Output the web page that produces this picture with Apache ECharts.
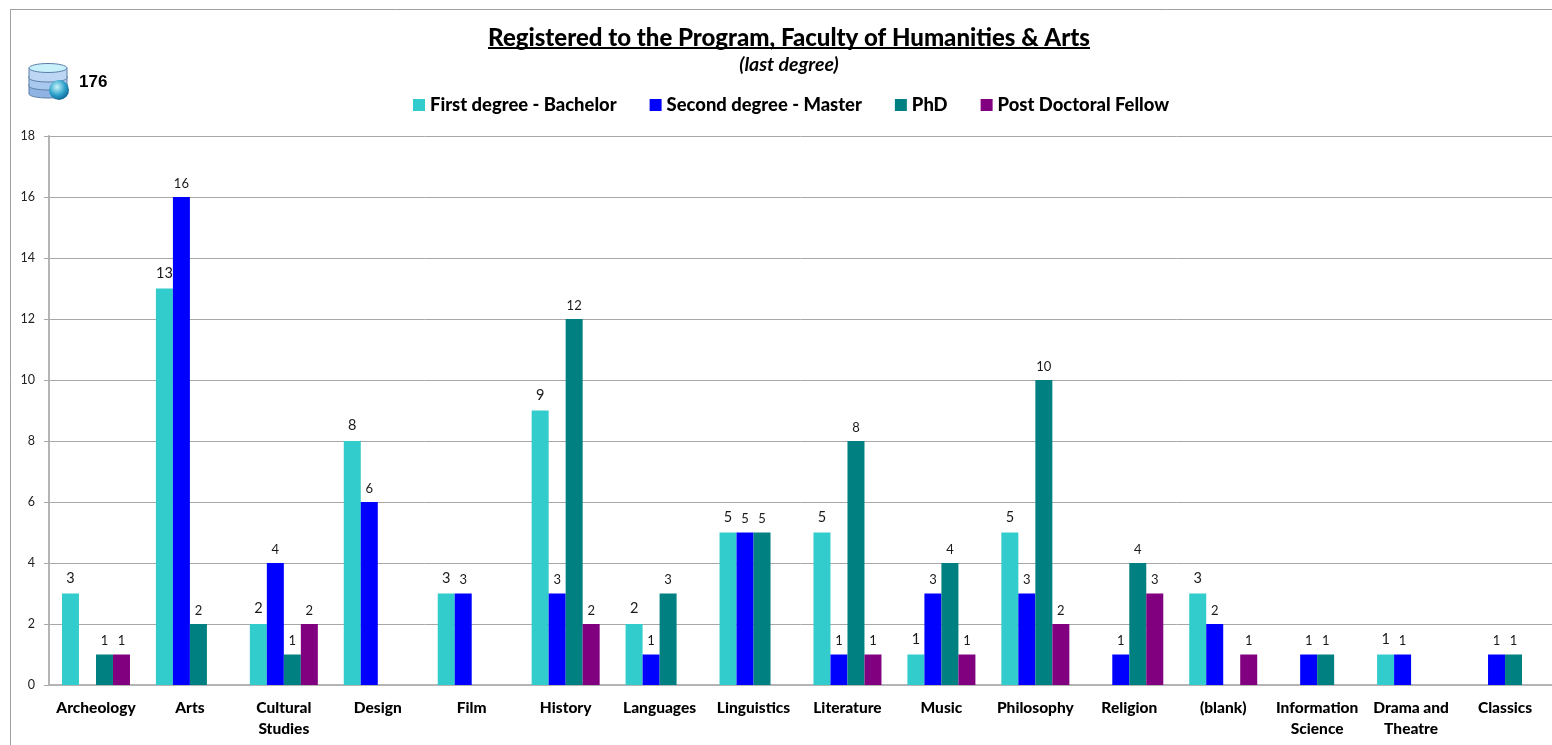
<!DOCTYPE html>
<html>
<head>
<meta charset="utf-8">
<title>Registered to the Program</title>
<script src="https://cdn.jsdelivr.net/npm/echarts@6/dist/echarts.min.js"></script>
<style>
  html, body { margin: 0; padding: 0; background: #fff; }
  #chart { width: 1552px; height: 745px; }
</style>
</head>
<body>
<div id="chart"></div>
<script>
const categories = ['Archeology', 'Arts', 'Cultural\nStudies', 'Design', 'Film', 'History', 'Languages', 'Linguistics',
    'Literature', 'Music', 'Philosophy', 'Religion', '(blank)', 'Information\nScience', 'Drama and\nTheatre', 'Classics']
const bachelor = [3, 13, 2, 8, 3, 9, 2, 5, 5, 1, 5, null, 3, null, 1, null]
const master = [null, 16, 4, 6, 3, 3, 1, 5, 1, 3, 3, 1, 2, 1, 1, 1]
const phd = [1, 2, 1, null, null, 12, 3, 5, 8, 4, 10, 4, null, 1, null, 1]
const postDoc = [1, null, 2, null, null, 2, null, null, 1, 1, 2, 3, 1, null, null, null]
const titleText = 'Registered to the Program, Faculty of Humanities & Arts'
const subtitleText = '(last degree)'
const totalText = '176'

const FONT = 'Lato'
const myChart = echarts.init(document.getElementById('chart'), null, { renderer: 'canvas' })

function barSeries(name, data, color, labelSize, labelDist) {
    return {
        name: name,
        type: 'bar',
        data: data,
        barWidth: 17,
        barGap: 0,
        itemStyle: { color: color },
        label: {
            show: true,
            position: 'top',
            distance: labelDist,
            color: '#1a1a1a',
            fontFamily: FONT,
            fontSize: labelSize
        }
    }
}

// database icon, next to the total: three stacked discs and a globe
function disc(cy, fill) {
    return [
        { type: 'ellipse', shape: { cx: 48, cy: cy + 10, rx: 19, ry: 4 }, style: { fill: fill, stroke: '#5b7fa8', lineWidth: 1 } },
        { type: 'rect', shape: { x: 29, y: cy, width: 38, height: 10 }, style: { fill: fill } },
        { type: 'line', shape: { x1: 29, y1: cy, x2: 29, y2: cy + 10 }, style: { stroke: '#5b7fa8', lineWidth: 1 } },
        { type: 'line', shape: { x1: 67, y1: cy, x2: 67, y2: cy + 10 }, style: { stroke: '#5b7fa8', lineWidth: 1 } }
    ]
}

myChart.setOption({
    animation: false,
    backgroundColor: '#fff',
    grid: { left: 49, right: 0, top: 136, bottom: 60, containLabel: false },
    legend: {
        top: 96,
        left: 413,
        padding: 0,
        itemWidth: 12,
        itemHeight: 12,
        itemGap: 33,
        icon: 'rect',
        textStyle: { fontFamily: FONT, fontWeight: 900, fontSize: 18.4, color: '#000' }
    },
    xAxis: {
        type: 'category',
        data: categories,
        axisLine: { lineStyle: { color: '#b4b4b4', width: 2 } },
        axisTick: { length: 5, lineStyle: { color: '#b4b4b4', width: 1 } },
        axisLabel: {
            interval: 0,
            margin: 12,
            color: '#000',
            fontFamily: FONT,
            fontWeight: 900,
            fontSize: 15.5,
            lineHeight: 21
        }
    },
    yAxis: {
        type: 'value',
        min: 0,
        max: 18,
        interval: 2,
        axisLine: { show: true, lineStyle: { color: '#b4b4b4', width: 2 } },
        axisTick: { show: true, length: 5, lineStyle: { color: '#a8a8a8', width: 1 } },
        axisLabel: { margin: 14, color: '#222', fontFamily: FONT, fontSize: 12.5 },
        splitLine: { lineStyle: { color: '#a8a8a8', width: 1 } }
    },
    series: [
        barSeries('First degree - Bachelor', bachelor, '#33cccc', 14.5, 8),
        barSeries('Second degree - Master', master, '#0000ff', 13, 7),
        barSeries('PhD', phd, '#008080', 13, 7),
        barSeries('Post Doctoral Fellow', postDoc, '#800080', 13, 7)
    ],
    graphic: [
        { type: 'line', shape: { x1: 10.5, y1: 745, x2: 10.5, y2: 9.5 }, style: { stroke: '#a0a0a0', lineWidth: 1 } },
        { type: 'line', shape: { x1: 10, y1: 9.5, x2: 1552, y2: 9.5 }, style: { stroke: '#a0a0a0', lineWidth: 1 } },
        {
            type: 'text', x: 789, y: 38,
            style: {
                text: titleText, fill: '#000', fontFamily: FONT, fontWeight: 900, fontSize: 24,
                align: 'center', verticalAlign: 'middle'
            }
        },
        { type: 'line', shape: { x1: 488, y1: 48, x2: 1090, y2: 48 }, style: { stroke: '#000', lineWidth: 2 } },
        {
            type: 'text', x: 789, y: 65,
            style: {
                text: subtitleText, fill: '#000', fontFamily: FONT, fontStyle: 'italic', fontWeight: 'bold', fontSize: 19.5,
                align: 'center', verticalAlign: 'middle'
            }
        },
        {
            type: 'text', x: 79, y: 82,
            style: {
                text: totalText, fill: '#000', fontFamily: 'Liberation Sans', fontWeight: 'bold', fontSize: 17,
                align: 'left', verticalAlign: 'middle'
            }
        },
        ...disc(84, '#8fb4e4'),
        ...disc(76, '#a9c8ee'),
        ...disc(68, '#bcd6f4'),
        { type: 'ellipse', shape: { cx: 48, cy: 68, rx: 19, ry: 4.5 }, style: { fill: '#c7f0fb', stroke: '#5b7fa8', lineWidth: 1 } },
        {
            type: 'circle', shape: { cx: 59, cy: 90, r: 10 },
            style: {
                fill: new echarts.graphic.RadialGradient(0.4, 0.35, 0.7, [
                    { offset: 0, color: '#c8f4fa' },
                    { offset: 0.6, color: '#2a9fc8' },
                    { offset: 1, color: '#0e5f8f' }
                ])
            }
        }
    ]
})
</script>
</body>
</html>
